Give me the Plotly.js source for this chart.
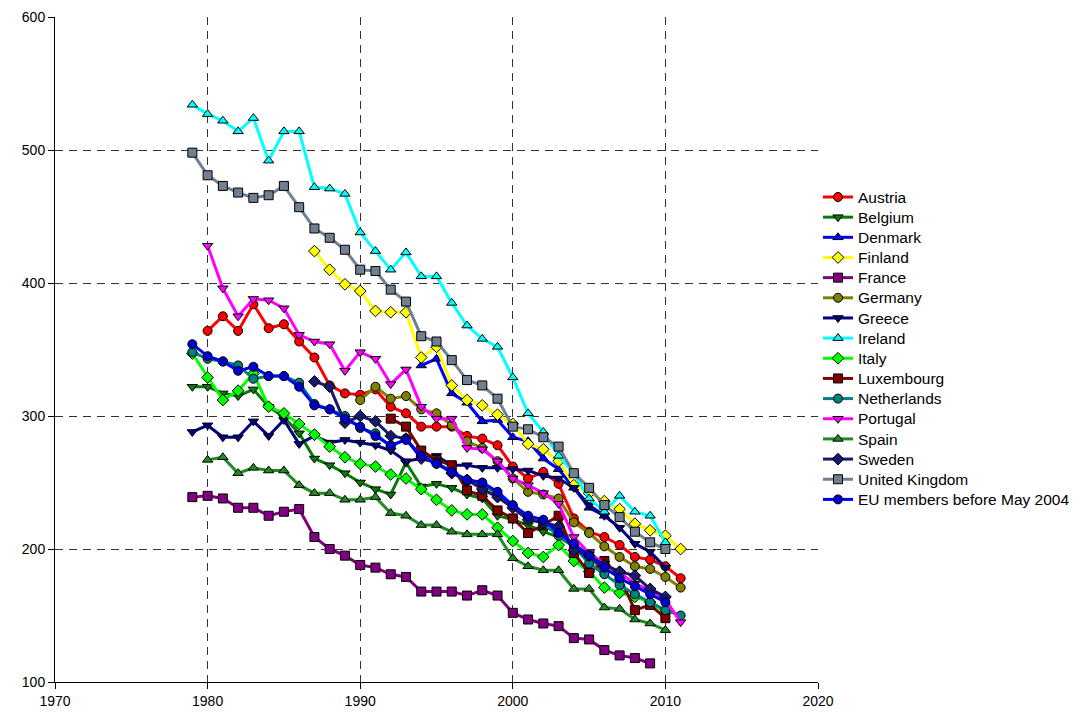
<!DOCTYPE html>
<html>
<head>
<meta charset="utf-8">
<script src="https://cdn.plot.ly/plotly-3.0.1.min.js"></script>
<style>
html,body{margin:0;padding:0;background:#fff;}
#chart{width:1083px;height:716px;}
</style>
</head>
<body>
<div id="chart"></div>
<script>
const allYears = [1979,1980,1981,1982,1983,1984,1985,1986,1987,1988,1989,1990,1991,1992,1993,1994,1995,1996,1997,1998,1999,2000,2001,2002,2003,2004,2005,2006,2007,2008,2009,2010,2011];

const austria = [364,375,364,384,366,369,356,344,323,317,316,320,307,302,292,292,292,285,283,278,262,253,258,249,223,213,209,203,194,192,187,178];
const belgium = [322,322,317,315,320,307,299,287,268,263,257,250,245,241,265,247,249,246,241,238,225,222,218,213,209,202,196,181];
const denmark = [338,343,317,310,296,297,284,281,268,260,246,231,225];
const finland = [424,410,399,394,379,378,378,344,352,323,312,308,301,294,279,275,266,248,242,236,230,219,214,210,200];
const france = [239,240,238,231,231,225,228,230,209,200,195,188,186,181,179,168,168,168,165,169,165,152,147,144,142,133,132,124,120,118,114];
const germany = [312,322,313,315,305,302,293,281,276,266,253,243,241,238,220,212,202,194,187,185,179,171];
const greece = [288,293,284,284,296,285,297,279,285,280,282,280,278,274,266,268,270,263,263,261,261,260,259,255,253,246,233,225,216,204,198,186];
const ireland = [534,527,522,514,524,492,514,514,472,471,467,438,424,410,423,405,405,385,368,358,352,329,302,288,270,257,238,228,240,228,225,205];
const italy = [347,329,312,319,332,307,302,294,286,277,269,264,262,256,253,245,237,229,226,226,216,206,197,194,203,191,183,171,167,164,160,152];
const luxembourg = [298,292,274,267,263,244,240,229,223,212,218,225,197,182,191,179,154,158,148];
const netherlands = [348,343,341,338,328,330,330,325,309,305,300,291,287,277,283,270,265,258,251,249,241,232,224,219,210,202,189,181,173,166,160,154,150];
const portugal = [428,396,375,388,387,381,361,356,354,334,348,343,324,335,307,298,298,276,275,266,253,248,242,234,209,197,189,182,174,169,162,145];
const spain = [267,269,257,261,259,259,248,242,242,237,237,239,227,225,218,218,213,211,211,211,193,187,184,184,170,170,156,155,147,144,139];
const sweden = [326,322,295,300,296,285,283,268,265,257,252,245,239,231,222,220,217,199,195,188,183,180,170,164];
const uk = [498,481,473,468,464,466,473,457,441,434,425,410,409,395,386,360,356,342,327,323,313,292,290,284,277,257,246,233,224,213,205,200];
const euBefore2004 = [354,345,341,334,337,330,330,322,308,305,298,292,285,278,282,270,264,258,252,250,243,233,225,222,212,204,195,186,178,172,166,160];

const xTickVals = [1970,1980,1990,2000,2010,2020];
const yTickVals = [100,200,300,400,500,600];

function yrs(start, arr){
  const i = allYears.indexOf(start);
  return allYears.slice(i, i + arr.length);
}

const series = [
  {name:'Austria', start:1980, y:austria, color:'#ff0000', sym:'circle', mc:'#ff0000'},
  {name:'Belgium', start:1979, y:belgium, color:'#087a08', sym:'triangle-down', mc:'#087a08'},
  {name:'Denmark', start:1994, y:denmark, color:'#0000ff', sym:'triangle-up', mc:'#0000ff'},
  {name:'Finland', start:1987, y:finland, color:'#ffff00', sym:'diamond', mc:'#ffff00'},
  {name:'France', start:1979, y:france, color:'#800080', sym:'square', mc:'#800080'},
  {name:'Germany', start:1990, y:germany, color:'#808000', sym:'circle', mc:'#808000'},
  {name:'Greece', start:1979, y:greece, color:'#000080', sym:'triangle-down', mc:'#000080'},
  {name:'Ireland', start:1979, y:ireland, color:'#00ffff', sym:'triangle-up', mc:'#00ffff'},
  {name:'Italy', start:1979, y:italy, color:'#00ff00', sym:'diamond', mc:'#00ff00'},
  {name:'Luxembourg', start:1992, y:luxembourg, color:'#800000', sym:'square', mc:'#800000'},
  {name:'Netherlands', start:1979, y:netherlands, color:'#008080', sym:'circle', mc:'#008080'},
  {name:'Portugal', start:1980, y:portugal, color:'#ff00ff', sym:'triangle-down', mc:'#ff00ff'},
  {name:'Spain', start:1980, y:spain, color:'#228b22', sym:'triangle-up', mc:'#228b22'},
  {name:'Sweden', start:1987, y:sweden, color:'#191970', sym:'diamond', mc:'#191970'},
  {name:'United Kingdom', start:1979, y:uk, color:'#708090', sym:'square', mc:'#708090'},
  {name:'EU members before May 2004', start:1979, y:euBefore2004, color:'#0000ff', sym:'circle', mc:'#0000cc'}
];

const traces = series.map(s => ({
  type:'scatter', mode:'lines+markers', name:s.name,
  x: yrs(s.start, s.y), y: s.y,
  line:{color:s.color, width:3},
  marker:{symbol:s.sym, color:s.mc, size:9, line:{color:'#000', width:1}}
}));

const layout = {
  width:1083, height:716,
  margin:{l:55, r:265, t:17, b:34},
  paper_bgcolor:'#fff', plot_bgcolor:'#fff',
  font:{family:'Liberation Sans, Arial, sans-serif', size:14, color:'#000'},
  showlegend:true,
  legend:{x:1.0, xanchor:'left', y:0.752, yanchor:'top', font:{size:13.2, color:'#000'},
          bgcolor:'rgba(0,0,0,0)', borderwidth:0, tracegroupgap:0, itemwidth:30},
  xaxis:{range:[1970,2020], tickvals:xTickVals, ticktext:xTickVals.map(String),
         showgrid:true, gridcolor:'#333', griddash:'8px,6px', gridwidth:1,
         showline:true, linecolor:'#000', linewidth:1, ticks:'outside', ticklen:6, tickcolor:'#000',
         zeroline:false, tickfont:{size:14}},
  yaxis:{range:[100,600], tickvals:yTickVals, ticktext:yTickVals.map(String),
         showgrid:true, gridcolor:'#333', griddash:'8px,6px', gridwidth:1,
         showline:true, linecolor:'#000', linewidth:1, ticks:'outside', ticklen:6, tickcolor:'#000',
         zeroline:false, tickfont:{size:14}}
};

Plotly.newPlot('chart', traces, layout, {displayModeBar:false, staticPlot:true}).then(() => {
  document.querySelectorAll('#chart .legend [clip-path]').forEach(el => el.removeAttribute('clip-path'));
  const lg = document.querySelector('#chart .legend');
  if (lg) lg.removeAttribute('clip-path');
  document.querySelectorAll('#chart .legendtext').forEach(t => {
    t.style.fontSize = '15.5px';
    t.setAttribute('y', parseFloat(t.getAttribute('y') || 0) + 0.5);
  });
});
</script>
</body>
</html>
